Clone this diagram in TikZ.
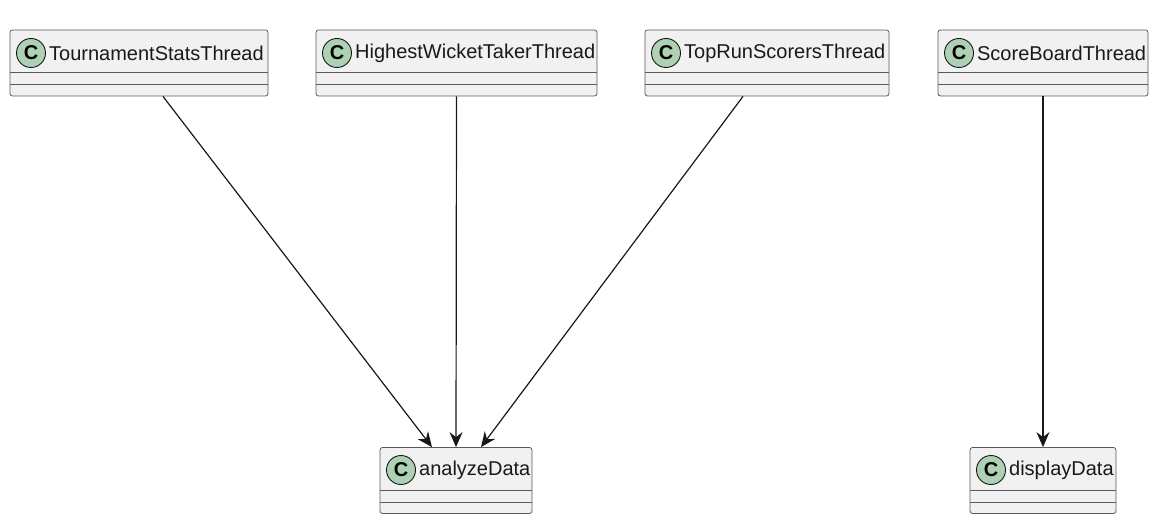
\documentclass[tikz,border=0pt]{standalone}
\usepackage{fontspec}
\setmainfont{Liberation Sans}
\usetikzlibrary{arrows.meta}

\definecolor{boxfill}{HTML}{F1F1F1}
\definecolor{boxline}{HTML}{5A5A5A}
\definecolor{spotfill}{HTML}{ADD1B2}
\definecolor{arrline}{HTML}{181818}

\tikzset{
  classbox/.style={draw=boxline, fill=boxfill, rounded corners=2.5pt, line width=0.8pt,
    minimum height=66pt, inner sep=0pt},
  spot/.style={circle, draw=arrline, fill=spotfill, line width=0.9pt, minimum size=29pt,
    inner sep=0pt, font=\fontsize{20}{20}\selectfont\bfseries},
  title/.style={anchor=west, inner sep=3pt, font=\fontsize{20}{21}\selectfont, text=black!90},
  sep/.style={draw=boxline, line width=0.8pt},
  assoc/.style={draw=arrline, line width=1.2pt, -{Stealth[length=15pt, width=13pt, inset=5pt]}}
}

\begin{document}
\begin{tikzpicture}[x=1pt, y=-1pt]
    \useasboundingbox (0, 0) rectangle (1152, 521);

    % thread classes
    \node[classbox, minimum width=258pt] (ts) at (139, 63){};
    \node[spot] (tsc) at (31, 53){C};
    \node[title] at (tsc.east){TournamentStatsThread};
    \draw[sep] ([yshift=-43pt]ts.north west)--([yshift=-43pt]ts.north east);
    \draw[sep] ([yshift=-55pt]ts.north west)--([yshift=-55pt]ts.north east);

    \node[classbox, minimum width=281pt] (hw) at (456.5, 63){};
    \node[spot] (hwc) at (337, 53){C};
    \node[title] at (hwc.east){HighestWicketTakerThread};
    \draw[sep] ([yshift=-43pt]hw.north west)--([yshift=-43pt]hw.north east);
    \draw[sep] ([yshift=-55pt]hw.north west)--([yshift=-55pt]hw.north east);

    \node[classbox, minimum width=244pt] (tr) at (767, 63){};
    \node[spot] (trc) at (666, 53){C};
    \node[title] at (trc.east){TopRunScorersThread};
    \draw[sep] ([yshift=-43pt]tr.north west)--([yshift=-43pt]tr.north east);
    \draw[sep] ([yshift=-55pt]tr.north west)--([yshift=-55pt]tr.north east);

    \node[classbox, minimum width=210pt] (sb) at (1043, 63){};
    \node[spot] (sbc) at (959, 53){C};
    \node[title] at (sbc.east){ScoreBoardThread};
    \draw[sep] ([yshift=-43pt]sb.north west)--([yshift=-43pt]sb.north east);
    \draw[sep] ([yshift=-55pt]sb.north west)--([yshift=-55pt]sb.north east);

    % data classes
    \node[classbox, minimum width=152pt] (ad) at (456, 480.5){};
    \node[spot] (adc) at (401, 470){C};
    \node[title] at (adc.east){analyzeData};
    \draw[sep] ([yshift=-43pt]ad.north west)--([yshift=-43pt]ad.north east);
    \draw[sep] ([yshift=-55pt]ad.north west)--([yshift=-55pt]ad.north east);

    \node[classbox, minimum width=146pt] (dd) at (1043, 480.5){};
    \node[spot] (ddc) at (991, 470){C};
    \node[title] at (ddc.east){displayData};
    \draw[sep] ([yshift=-43pt]dd.north west)--([yshift=-43pt]dd.north east);
    \draw[sep] ([yshift=-55pt]dd.north west)--([yshift=-55pt]dd.north east);

    % links
    \draw[assoc] ([xshift=24pt]ts.south)--([xshift=-24pt]ad.north);
    \draw[assoc] (hw.south)--(ad.north);
    \draw[assoc] ([xshift=-24pt]tr.south)--([xshift=25pt]ad.north);
    \draw[assoc] (sb.south)--(dd.north);

  \end{tikzpicture}
\end{document}
